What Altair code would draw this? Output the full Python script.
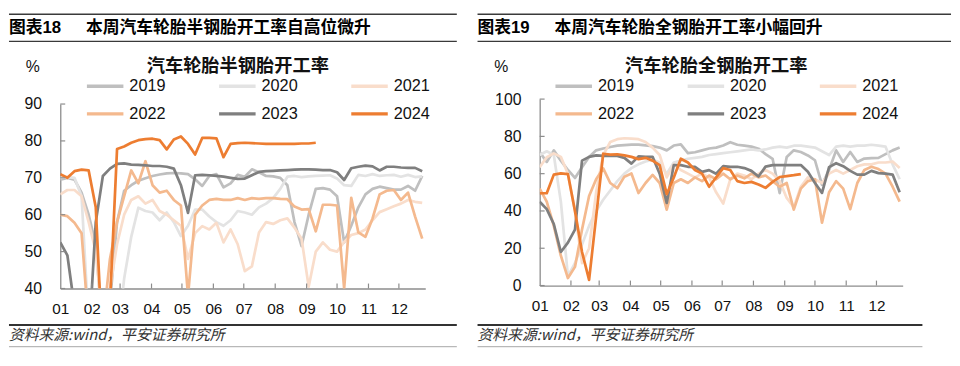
import altair as alt
import pandas as pd

FONT = "Liberation Sans, Noto Sans CJK SC, sans-serif"
CJK = "Noto Sans CJK SC, Liberation Sans, sans-serif"

years = ["2019", "2020", "2021", "2022", "2023", "2024"]
colors = ["#BFBFBF", "#E3E3E3", "#F9DDCB", "#F4B98E", "#7F7F7F", "#ED7D31"]
months = ["01", "02", "03", "04", "05", "06", "07", "08", "09", "10", "11", "12"]
month_start_days = [0, 31, 59, 90, 120, 151, 181, 212, 243, 273, 304, 334]
semi_ticks = [40, 50, 60, 70, 80, 90]
all_ticks = [0, 20, 40, 60, 80, 100]

# 半钢胎开工率 (weekly, %)
semi_2019 = [69.5, 70, 69.5, 66, 60, 52, 28, 36, 58, 66.5, 68, 69.2, 69.9, 70.5, 70.9, 71.2, 71.3, 71.2,
             71.0, 69.6, 67.8, 70.5, 71.0, 67.4, 68.5, 70.8, 70.3, 72.3, 71.5, 70.5, 70.4, 70.0, 68.0, 58.0,
             51.5, 60.0, 67.0, 67.2, 66.8, 65.0, 52.5, 57.0, 62.0, 65.5, 67.0, 67.6, 67.2, 66.8, 66.8, 67.8,
             66.5, 70.5]
semi_2020 = [70, 70.2, 70, 65, 30, 10, 5, 5, 25, 42.7, 54, 61.9, 61, 60.6, 58.5, 60.6, 58, 54.2, 57, 61.4,
             61.4, 59.5, 58, 57, 58.5, 61, 60.6, 60, 62, 63, 64.5, 67, 70.3, 70.5, 70.2, 70.4, 70.5, 70.6,
             70.7, 69.8, 68, 67.8, 70.8, 70.5, 71, 70.5, 70.7, 70.8, 70.3, 70.8, 70.2, 70.4]
semi_2021 = [65.5, 66.7, 66.7, 65, 58, 50, 30, 40, 52, 60, 64, 65, 63, 64, 61, 60, 58.5, 57, 48, 55, 56.9,
             56, 57.8, 52.5, 56, 52, 44.7, 46, 55.2, 58, 57.5, 58.5, 59, 56.5, 53.5, 40.5, 50, 52.5, 50.5,
             50, 52.6, 54.5, 55, 56, 58.5, 60.7, 61.5, 62.3, 63, 64, 63.5, 63.2]
semi_2022 = [60, 59.6, 57.8, 55, 30, 20, 30, 48, 58, 65, 72, 68.5, 74.5, 68, 66, 66.5, 64, 62.5, 38, 60,
             62.5, 64, 64.3, 64, 64, 64.5, 64, 64.5, 64.3, 64.5, 64.5, 64.3, 64.2, 62.2, 61.4, 61.5, 55.5,
             62.7, 62.7, 62.5, 40, 64.6, 55.2, 54, 59, 65.5, 66.5, 66.7, 64, 66, 59.5, 53.5]
semi_2023 = [52.5, 49, 35, 20, 25, 58, 70.5, 72.5, 73.8, 73.9, 73.6, 73.5, 73.4, 73.2, 73.2, 73, 72.5, 68,
             60.5, 70.7, 70.8, 70.7, 70.5, 70.3, 70, 69.7, 69.8, 70.7, 71.6, 71.8, 71.9, 72, 72.1, 72.2,
             72.3, 72.3, 72.2, 72.1, 72.1, 71.5, 69.4, 72.6, 73, 73.3, 73.1, 72, 73, 73, 72.8, 72.7, 72.7,
             71.8]
semi_2024 = [71, 70, 71.8, 72.2, 72, 62, 22, 36, 77.8, 78.5, 79.5, 80.2, 80.5, 80.6, 80.2, 77.7, 80.4, 81.2,
             79.2, 76.3, 80.8, 80.8, 80.7, 75.6, 79.2, 79.4, 79.5, 79.4, 79.3, 79.2, 79.2, 79.2, 79.2, 79.2,
             79.3, 79.3, 79.5]

# 全钢胎开工率 (weekly, %)
all_2019 = [71.6, 66.3, 72.5, 67, 62, 57.7, 63.5, 69, 72.5, 73.5, 74.3, 75, 75.3, 75.6, 75.6, 75.2, 74.8, 74,
            72.5, 75.1, 75.7, 71, 71.5, 72.5, 73.5, 74, 75.1, 76.9, 75.5, 75, 74.5, 73.4, 70.5, 68, 49.6, 69,
            72.5, 71.6, 69.8, 67.2, 54, 62, 72.5, 66.3, 71.6, 66.3, 68.1, 68.3, 68.5, 70.5, 72.5, 74]
all_2020 = [70, 72, 70, 45, 5, 12, 22, 32, 40, 46, 51, 56, 60, 63, 65, 66.5, 67.5, 66, 60, 66, 67, 68, 68.5,
            69, 70, 70.5, 71, 71.5, 72, 72.5, 73, 72.5, 73, 74, 74.5, 74, 75, 75, 74.5, 74, 72, 70, 74.5, 75,
            74.5, 75, 75, 75.5, 75, 74.5, 65, 57]
all_2021 = [63.5, 68.8, 70.9, 69, 60, 40, 12, 20, 50, 70, 77, 78.5, 79, 78.8, 78.5, 77, 74, 70, 58, 65, 62,
            60, 58, 60, 58, 50, 44, 57, 60, 59, 57, 60, 62, 60, 56, 47, 42, 53, 58, 57, 55, 60, 62, 60, 62,
            64, 65, 65, 66, 66, 66.5, 63]
all_2022 = [52, 45, 32, 16, 4, 10, 30, 48, 57, 62.8, 55, 52.2, 58.4, 60.1, 49.6, 55, 59.3, 55, 40.7, 55, 57,
            55, 58, 56, 59, 57, 60, 57, 59, 57.5, 60, 58, 59, 56, 53, 55, 40.7, 52, 56, 57, 33.7, 50, 56,
            52, 41, 55, 62, 63.7, 62.5, 60, 53, 45]
all_2023 = [45, 41, 33, 18, 23, 30, 67, 69, 69.8, 69.5, 69.5, 69.5, 68.5, 65.4, 69.3, 69, 69, 60, 44.3, 64.6,
            64.6, 63.7, 63.7, 61, 61.9, 60, 64, 63.7, 63.7, 63, 61.5, 58.5, 63.8, 64.6, 64.6, 64.6, 64.6,
            64.6, 61, 55, 49.7, 63.5, 65.6, 64, 61.5, 59.5, 59.5, 61.5, 60.3, 60, 59.5, 50]
all_2024 = [49.5, 49.5, 59.5, 60.2, 59.8, 40, 18, 3, 37, 70.7, 70.2, 70.4, 69.8, 69, 67.8, 68.5, 67, 64.6,
            49, 58, 68, 66, 62, 60, 53, 58, 63, 62, 56, 55, 55.6, 54.2, 52.4, 55.6, 58.2, 58.7, 59.2, 59.8]


def make_df(series):
    rows = []
    for yr, vals in zip(years, series):
        for k, v in enumerate(vals):
            rows.append({"year": yr, "day": 7 * k, "value": v})
    return pd.DataFrame(rows)


def text_layer(txt, x, y, size, bold=False, italic=False, align="left", color="#000000", font=CJK):
    return alt.Chart(pd.DataFrame({"t": [txt]})).mark_text(
        align=align, baseline="middle", fontSize=size,
        fontWeight="bold" if bold else "normal",
        fontStyle="italic" if italic else "normal",
        font=font, color=color,
    ).encode(text="t:N", x=alt.value(x), y=alt.value(y))


def hrule(x1, x2, y, color, w):
    return alt.Chart(pd.DataFrame({"r": [0]})).mark_rule(color=color, strokeWidth=w).encode(
        x=alt.value(x1), x2=alt.value(x2), y=alt.value(y))


AXIS_COLOR = "#8C8C8C"
label_expr = "[" + ",".join("'%s'" % m for m in months) + "][indexof([" + \
    ",".join(str(d) for d in month_start_days) + "], datum.value)]"


def panel(df, num, head, title, ydom, yrange, yticks, width, height, left_ext, right_ext,
          foot_right, legend_x, pct_x):
    def xscale():
        return alt.Scale(domain=[0, 360], nice=False, zero=False)

    def yscale():
        return alt.Scale(domain=ydom, range=yrange, nice=False, zero=False)

    xenc = alt.X("day:Q", scale=xscale(),
                 axis=alt.Axis(values=month_start_days, labelExpr=label_expr, title=None, ticks=False,
                               grid=False, domainColor=AXIS_COLOR, domainWidth=1.3, labelFontSize=15.5,
                               labelFont=FONT, labelColor="#111111", labelPadding=13,
                               labelFlush=False, labelOverlap=False))
    yenc = alt.Y("value:Q", scale=yscale(),
                 axis=alt.Axis(values=yticks, title=None, ticks=False, grid=False,
                               domainColor=AXIS_COLOR, domainWidth=1.3, labelFontSize=16,
                               labelFont=FONT, labelColor="#111111", labelPadding=19,
                               labelFlush=False, labelOverlap=False))
    lines = alt.Chart(df).mark_line(clip=True, strokeWidth=2.75, strokeJoin="round").encode(
        x=xenc, y=yenc,
        color=alt.Color("year:N", scale=alt.Scale(domain=years, range=colors),
                        legend=alt.Legend(orient="none", legendX=legend_x, legendY=-22,
                                          direction="horizontal", columns=3, title=None,
                                          symbolType="stroke", symbolSize=1369,
                                          symbolStrokeWidth=3.5, labelFontSize=16.5, labelFont=FONT,
                                          labelColor="#111111", labelOffset=4, columnPadding=52,
                                          rowPadding=10, padding=0, gridAlign="all", clipHeight=18)),
    )
    ytick = alt.Chart(pd.DataFrame({"tv": yticks})).mark_rule(
        color=AXIS_COLOR, strokeWidth=1.2).encode(
        y=alt.Y("tv:Q", scale=yscale(), axis=None), x=alt.value(0), x2=alt.value(5))
    xtick = alt.Chart(pd.DataFrame({"td": month_start_days[1:]})).mark_rule(
        color=AXIS_COLOR, strokeWidth=1.2).encode(
        x=alt.X("td:Q", scale=xscale(), axis=None), y=alt.value(height - 5), y2=alt.value(height))
    ticks = alt.layer(ytick, xtick).resolve_scale(x="independent", y="independent")
    decor = [
        hrule(left_ext, right_ext, -86, "#3A3A3A", 1.4),
        text_layer("图表" + num, left_ext, -72, 17, bold=True, font=FONT),
        text_layer(head, left_ext + 78, -72, 17, bold=True),
        hrule(left_ext, right_ext, -58.5, "#3A3A3A", 1.3),
        text_layer(title, width / 2 - 5, -33, 18.5, bold=True, align="center", color="#111111"),
        text_layer("%", pct_x, -32, 16, align="center", font=FONT, color="#111111"),
        hrule(left_ext, foot_right, 229, "#333333", 2),
        text_layer("资料来源:wind，平安证券研究所", left_ext, 239, 15, italic=True, color="#333333"),
        hrule(left_ext, foot_right, 251, "#A6A6A6", 1),
    ]
    return alt.layer(lines, ytick, xtick, *decor).resolve_scale(
        x="independent", y="independent").properties(width=width, height=height)


semi_df = make_df([semi_2019, semi_2020, semi_2021, semi_2022, semi_2023, semi_2024])
all_df = make_df([all_2019, all_2020, all_2021, all_2022, all_2023, all_2024])

left = panel(semi_df, "18", "本周汽车轮胎半钢胎开工率自高位微升", "汽车轮胎半钢胎开工率",
             [40, 90], [192, 5], semi_ticks, 370, 192, -52, 402, 402, 25, -28)
right = panel(all_df, "19", "本周汽车轮胎全钢胎开工率小幅回升", "汽车轮胎全钢胎开工率",
              [0, 100], [189, 0], all_ticks, 368, 189, -63, 417, 388, 14, -39)

chart = alt.hconcat(left, right, spacing=19).resolve_scale(color="independent").resolve_legend(
    color="independent").properties(
    padding={"left": 0, "top": 3, "right": 0, "bottom": 0}, background="white"
).configure_view(stroke=None)

chart.save("out.html", embed_options={"renderer": "svg", "actions": False})
